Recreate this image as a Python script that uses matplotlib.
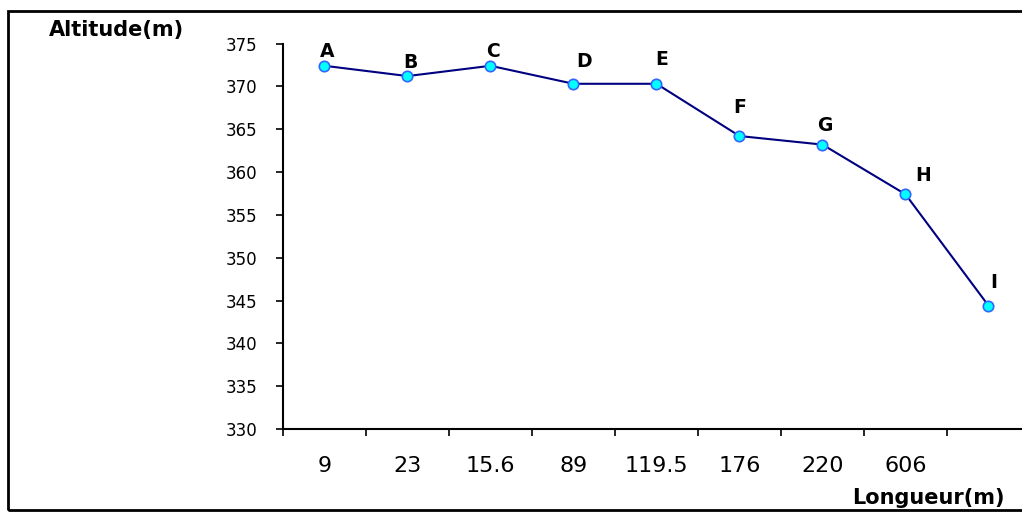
import matplotlib.pyplot as plt
from matplotlib.patches import Rectangle

# donnees
longueurs = ["9", "23", "15.6", "89", "119.5", "176", "220", "606", ""]
points = ["A", "B", "C", "D", "E", "F", "G", "H", "I"]
altitudes = [372.4, 371.2, 372.4, 370.3, 370.3, 364.2, 363.2, 357.4, 344.4]
# decalage des etiquettes (pixels)
decalages = [(3, 14), (3, 14), (3, 14), (11, 22), (5, 24), (0, 29), (2, 19), (18, 19), (5, 23)]

plt.rcParams['font.family'] = ['DejaVu Sans']

fig = plt.figure(figsize=(10.22, 5.12), dpi=100)
ax = fig.add_axes([0.2769, 0.1621, 0.7309, 0.7529])

x = list(range(len(altitudes)))
ax.plot(x, altitudes, color='#000080', lw=1.5, marker='o', markersize=7.5,
        markerfacecolor='#00FFFF', markeredgecolor='#3366FF', markeredgewidth=1.2,
        clip_on=False, zorder=3)

for xi, yi, nom, d in zip(x, altitudes, points, decalages):
    ax.annotate(nom, (xi, yi), xytext=d, textcoords='offset pixels',
                ha='center', va='center', fontsize=13.5, fontweight='bold')

ax.set_xlim(-0.5, len(altitudes) - 0.5)
ax.set_ylim(330, 375)
ax.set_yticks(range(330, 376, 5))
ax.set_xticks([i - 0.5 for i in range(len(altitudes) + 1)])
ax.set_xticklabels([])
ax.set_xticks(x, minor=True)
ax.set_xticklabels(longueurs, minor=True)

ax.spines['top'].set_visible(False)
ax.spines['right'].set_visible(False)
ax.spines['left'].set_linewidth(1.5)
ax.spines['bottom'].set_linewidth(1.5)
ax.tick_params(axis='y', direction='out', length=5, width=1.2, pad=13.5, labelsize=12)
ax.tick_params(axis='x', which='major', direction='out', length=5, width=1.2)
ax.tick_params(axis='x', which='minor', length=0, pad=19.5, labelsize=16)

fig.text(49 / 1022, 1 - 30 / 512, 'Altitude(m)', ha='left', va='center',
         fontsize=15, fontweight='bold')
fig.text(1005 / 1022, 1 - 498 / 512, 'Longueur(m)', ha='right', va='center',
         fontsize=15, fontweight='bold')

fig.patches.append(Rectangle((8 / 1022, 2 / 512), 1.0, 1 - 13 / 512,
                             transform=fig.transFigure, fill=False, lw=2,
                             edgecolor='black'))

fig.savefig('out.png', dpi=100)
